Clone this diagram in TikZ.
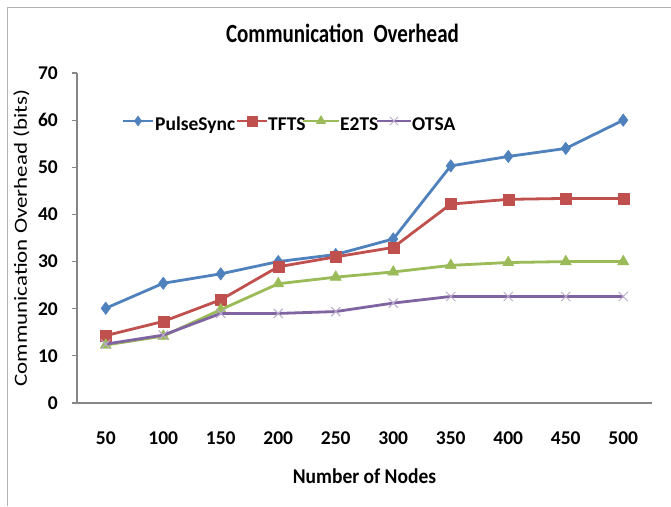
\documentclass[tikz,border=0pt]{standalone}
\usepackage{fontspec}
\setmainfont{Carlito}
\usepackage{graphicx}
\usepackage{tikz}
\usetikzlibrary{positioning, plotmarks}

\definecolor{syncblue}{HTML}{4F81BD}
\definecolor{tftsred}{HTML}{C0504D}
\definecolor{etsgreen}{HTML}{9BBB59}
\definecolor{otsapurple}{HTML}{8064A2}
\definecolor{axisgray}{HTML}{868686}

\begin{document}
\begin{tikzpicture}[x=1pt, y=-1pt,
		axisline/.style={axisgray, line width=1.1pt},
		ticklab/.style={font=\fontsize{19.5}{20}\selectfont\bfseries, inner sep=0pt},
		legtext/.style={font=\fontsize{19.5}{20}\selectfont\bfseries, inner sep=0pt, anchor=base west},
		pulse/.style={syncblue, line width=2.8pt, line join=round, mark=diamond*, mark size=6.3pt, mark options={line width=0.4pt}},
		tfts/.style={tftsred, line width=2.8pt, line join=round, mark=square*, mark size=5.5pt, mark options={line width=0.4pt}},
		etts/.style={etsgreen, line width=2.8pt, line join=round, mark=triangle*, mark size=6.5pt, mark options={line width=0.4pt}},
		otsa/.style={otsapurple, line width=2.8pt, line join=round, mark=x, mark size=6.5pt, mark options={otsapurple!55, line width=1pt}}]
		\useasboundingbox (0,0) rectangle (671,506);
		\fill[white] (0,0) rectangle (671,506);
		\draw[gray!60, line width=0.8pt] (7,506) |- (671,7);
		
		\node[font=\fontsize{21}{22}\selectfont\bfseries, anchor=base, inner sep=0pt] (title) at (342.5,42) {\scalebox{1}[1.25]{Communication\ \ Overhead}};
		
		\begin{scope}[shift={(77,403)}, x=57.5pt, y=4.714pt]
			\draw[axisline] (0,70) -- (0,0) -- (10,0);
			\foreach \v in {0,10,...,70} {
				\draw[axisline] (0,\v) -- ++(-5pt,0pt);
				\node[ticklab, anchor=east] (yt\v) at ([xshift=-19pt]0,\v) {\v};
			}
			\foreach \n [count=\i] in {50,100,...,500}
				\node[ticklab] (xt\n) at ([yshift=-35pt]\i-0.5,0) {\n};
			
			\draw[pulse] plot coordinates {(0.5,20.1) (1.5,25.4) (2.5,27.4) (3.5,30.0) (4.5,31.5) (5.5,34.8) (6.5,50.3) (7.5,52.3) (8.5,54.0) (9.5,60.0)};
			\draw[tfts] plot coordinates {(0.5,14.3) (1.5,17.3) (2.5,21.9) (3.5,28.9) (4.5,31.0) (5.5,33.0) (6.5,42.2) (7.5,43.2) (8.5,43.4) (9.5,43.4)};
			\draw[etts] plot coordinates {(0.5,12.3) (1.5,14.2) (2.5,19.8) (3.5,25.3) (4.5,26.7) (5.5,27.8) (6.5,29.2) (7.5,29.8) (8.5,30.0) (9.5,30.0)};
			\draw[otsa] plot coordinates {(0.5,12.5) (1.5,14.4) (2.5,19.0) (3.5,19.0) (4.5,19.4) (5.5,21.2) (6.5,22.6) (7.5,22.6) (8.5,22.6) (9.5,22.6)};
		\end{scope}
		
		\node[font=\fontsize{18.5}{19}\selectfont, rotate=90, anchor=base, inner sep=0pt] (ylabel) at (27,238) {\scalebox{1.24}[1]{Communication Overhead (bits)}};
		\node[font=\fontsize{19.5}{20}\selectfont\bfseries, anchor=base, inner sep=0pt] (xlabel) at (364.5,483) {\scalebox{1}[1.08]{Number of Nodes}};
		
		\draw[pulse, mark=] (123,121) -- (153,121);
		\draw[pulse, mark size=5pt] plot coordinates {(138,121)};
		\node[legtext] (lpulse) at (155,130) {PulseSync};
		\draw[tfts, mark=] (237,121) -- (267,121);
		\draw[tfts, mark size=4.8pt] plot coordinates {(252,121)};
		\node[legtext] (ltfts) at (268,130) {TFTS};
		\draw[etts, mark=] (303,121) -- (339,121);
		\draw[etts, mark size=5.5pt] plot coordinates {(321,121)};
		\node[legtext] (letts) at (340,130) {E2TS};
		\draw[otsa, mark=] (377,121) -- (411,121);
		\draw[otsa, mark size=6pt] plot coordinates {(394,121)};
		\node[legtext] (lotsa) at (412,130) {OTSA};
	\end{tikzpicture}
\end{document}
